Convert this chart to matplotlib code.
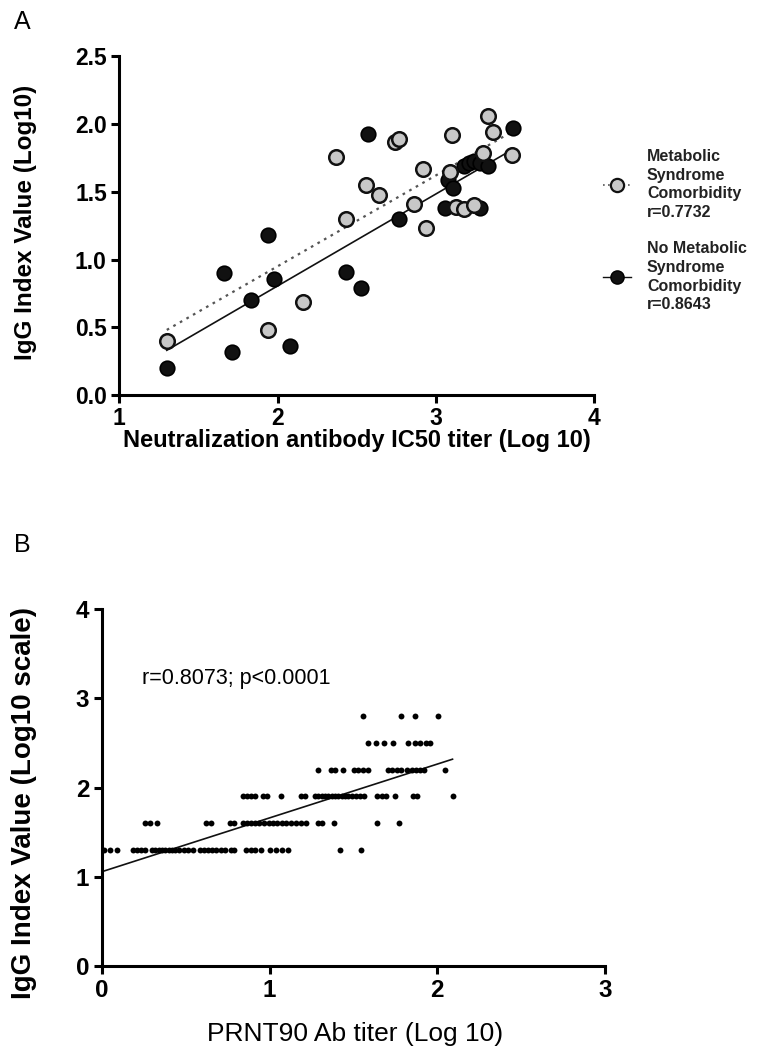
import numpy as np
import matplotlib
matplotlib.use("Agg")
import matplotlib.pyplot as plt
from matplotlib.lines import Line2D

plt.rcParams['font.family'] = ['Liberation Sans', 'DejaVu Sans']

# ---- panel A data ----
ms_x = [1.30, 1.94, 2.16, 2.37, 2.43, 2.56, 2.64, 2.74, 2.77, 2.86, 2.92,
        2.94, 3.10, 3.09, 3.13, 3.18, 3.24, 3.30, 3.33, 3.36, 3.48]
ms_y = [0.40, 0.48, 0.69, 1.76, 1.30, 1.55, 1.48, 1.87, 1.89, 1.41, 1.67,
        1.23, 1.92, 1.65, 1.39, 1.37, 1.40, 1.79, 2.06, 1.94, 1.77]
noms_x = [1.30, 1.66, 1.71, 1.83, 1.94, 1.98, 2.08, 2.43, 2.53, 2.57, 2.77,
          3.06, 3.08, 3.11, 3.18, 3.21, 3.24, 3.28, 3.28, 3.33, 3.49]
noms_y = [0.20, 0.90, 0.32, 0.70, 1.18, 0.86, 0.36, 0.91, 0.79, 1.93, 1.30,
          1.38, 1.59, 1.53, 1.69, 1.71, 1.73, 1.71, 1.38, 1.69, 1.97]
ms_fit = (0.671, -0.392)      # slope, intercept
noms_fit = (0.679, -0.553)
ms_label = "Metabolic\nSyndrome\nComorbidity\nr=0.7732"
noms_label = "No Metabolic\nSyndrome\nComorbidity\nr=0.8643"

# ---- panel B data: IgG levels and PRNT90 titers per level ----
lvl_13 = [0.01, 0.05, 0.09, 0.185, 0.21, 0.234, 0.26, 0.298, 0.318, 0.338,
          0.358, 0.378, 0.398, 0.417, 0.437, 0.463, 0.489, 0.513, 0.543,
          0.583, 0.608, 0.632, 0.658, 0.682, 0.708, 0.732, 0.771, 0.791,
          0.86, 0.887, 0.911, 0.95, 1.0, 1.039, 1.073, 1.109, 1.419, 1.544]
lvl_16 = [0.255, 0.29, 0.33, 0.622, 0.648, 0.767, 0.791, 0.841, 0.866, 0.89,
          0.914, 0.94, 0.966, 0.994, 1.02, 1.045, 1.073, 1.099, 1.129, 1.159,
          1.188, 1.218, 1.288, 1.312, 1.387, 1.638, 1.773]
lvl_19 = [0.839, 0.863, 0.887, 0.912, 0.962, 0.982, 1.071, 1.19, 1.21, 1.27,
          1.29, 1.31, 1.33, 1.35, 1.37, 1.39, 1.41, 1.43, 1.449, 1.469, 1.489,
          1.515, 1.538, 1.564, 1.642, 1.668, 1.693, 1.747, 1.856, 1.88, 2.091]
lvl_22 = [1.29, 1.366, 1.389, 1.439, 1.503, 1.528, 1.558, 1.588, 1.707,
          1.733, 1.757, 1.781, 1.817, 1.847, 1.872, 1.896, 1.92, 2.045]
lvl_25 = [1.588, 1.634, 1.682, 1.737, 1.827, 1.866, 1.9, 1.932, 1.956]
lvl_28 = [1.558, 1.781, 1.866, 2.005]
igg_levels = [1.3, 1.6, 1.9, 2.2, 2.5, 2.8]
prnt_rows = [lvl_13, lvl_16, lvl_19, lvl_22, lvl_25, lvl_28]
prnt_fit = (0.603, 1.057)
prnt_text = "r=0.8073; p<0.0001"


def style_axis(ax):
    for s in ['top', 'right']:
        ax.spines[s].set_visible(False)
    for s in ['left', 'bottom']:
        ax.spines[s].set_linewidth(2.2)
    ax.tick_params(direction='out', length=6, width=2.2, pad=3)


fig = plt.figure(figsize=(7.6, 10.56), dpi=100)

# ---------------- panel A ----------------
axA = fig.add_axes([0.157, 0.626, 0.6246, 0.3205])
style_axis(axA)
axA.set_xlim(1, 4)
axA.set_ylim(0, 2.5)
axA.set_xticks([1, 2, 3, 4])
axA.set_yticks([0, 0.5, 1.0, 1.5, 2.0, 2.5])
axA.set_yticklabels(['0.0', '0.5', '1.0', '1.5', '2.0', '2.5'])
for lab in axA.get_xticklabels() + axA.get_yticklabels():
    lab.set_fontweight('bold')
    lab.set_fontsize(16.5)

xs = np.array([min(noms_x), max(noms_x)])
axA.plot(xs, noms_fit[0] * xs + noms_fit[1], color='#111111', lw=1.2, zorder=2)
xs = np.array([min(ms_x), max(ms_x) - 0.02])
axA.plot(xs, ms_fit[0] * xs + ms_fit[1], color='#555555', lw=1.6,
         ls=(0, (1.2, 2.2)), zorder=2)
axA.scatter(noms_x, noms_y, s=110, c='#111111', edgecolors='#000000',
            linewidths=1.2, zorder=3, clip_on=False)
axA.scatter(ms_x, ms_y, s=110, c='#c8c8c8', edgecolors='#111111',
            linewidths=1.8, zorder=4, clip_on=False)

axA.set_xlabel("Neutralization antibody IC50 titer (Log 10)", fontsize=17,
               fontweight='bold')
axA.set_ylabel("IgG Index Value (Log10)", fontsize=17.5, fontweight='bold')
axA.xaxis.set_label_coords(0.5, -0.1)
axA.yaxis.set_label_coords(-0.174, 0.51)

h_ms = Line2D([], [], color='#555555', lw=1.2, ls=(0, (1, 2)), marker='o',
              ms=9.5, mfc='#c8c8c8', mec='#111111', mew=1.6)
h_noms = Line2D([], [], color='#111111', lw=1.0, marker='o', ms=9.5,
                mfc='#111111', mec='#000000', mew=1.0)
leg = axA.legend([h_ms, h_noms], [ms_label, noms_label], loc='upper left',
                 bbox_to_anchor=(603 / 760, 1 - 149 / 1056),
                 bbox_transform=fig.transFigure, frameon=False,
                 prop={'weight': 'bold', 'size': 11.5}, handlelength=1.75,
                 handletextpad=1.0, labelspacing=1.35, borderpad=0,
                 borderaxespad=0)
for t in leg.get_texts():
    t.set_linespacing(1.3)
    t.set_color('#222222')

fig.text(14 / 760, 1 - 22 / 1056, "A", fontsize=18, va='center', ha='left')

# ---------------- panel B ----------------
axB = fig.add_axes([0.134, 0.0852, 0.662, 0.338])
style_axis(axB)
axB.set_xlim(0, 3)
axB.set_ylim(0, 4)
axB.set_xticks([0, 1, 2, 3])
axB.set_yticks([0, 1, 2, 3, 4])
for lab in axB.get_xticklabels() + axB.get_yticklabels():
    lab.set_fontweight('bold')
    lab.set_fontsize(17.5)

bx = np.concatenate([np.array(r) for r in prnt_rows])
by = np.concatenate([np.full(len(r), lv) for r, lv in zip(prnt_rows, igg_levels)])
axB.scatter(bx, by, s=18, c='#000000', linewidths=0, zorder=3, clip_on=False)
xs = np.array([0, bx.max()])
axB.plot(xs, prnt_fit[0] * xs + prnt_fit[1], color='#111111', lw=1.2, zorder=2)
axB.text(0.237, 3.22, prnt_text, fontsize=15.5, ha='left', va='center')

axB.set_xlabel("PRNT90 Ab titer (Log 10)", fontsize=19)
axB.set_ylabel("IgG Index Value (Log10 scale)", fontsize=20, fontweight='bold')
axB.xaxis.set_label_coords(0.503, -0.158)
axB.yaxis.set_label_coords(-0.128, 0.457)

fig.text(14 / 760, 1 - 545 / 1056, "B", fontsize=18, va='center', ha='left')

fig.savefig("out.png", dpi=100)
